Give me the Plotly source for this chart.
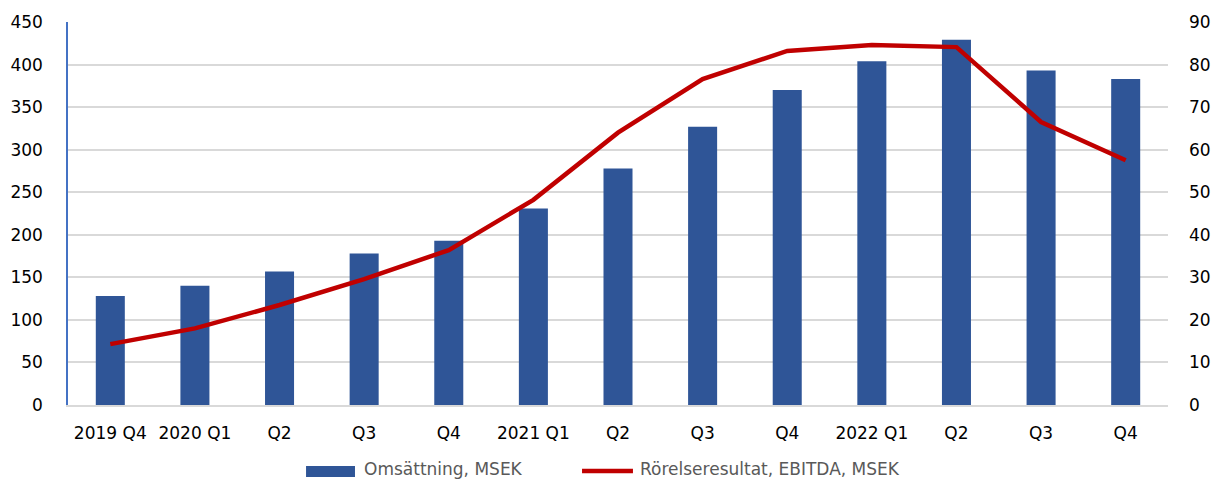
import plotly.graph_objects as go

categories = ["2019 Q4", "2020 Q1", "Q2", "Q3", "Q4", "2021 Q1", "Q2", "Q3", "Q4", "2022 Q1", "Q2", "Q3", "Q4"]
omsattning = [128, 140, 157, 178, 193, 231, 278, 327, 370, 404, 429, 393, 383]
ebitda = [14.3, 18.0, 23.5, 29.6, 36.4, 48.2, 64.0, 76.6, 83.2, 84.6, 84.1, 66.5, 57.5]
left_ticks = [0, 50, 100, 150, 200, 250, 300, 350, 400, 450]
right_ticks = [0, 10, 20, 30, 40, 50, 60, 70, 80, 90]
bar_name = "Omsättning, MSEK"
line_name = "Rörelseresultat, EBITDA, MSEK"

x = list(range(len(categories)))
font = "DejaVu Sans"
bar_color = "#2F5597"
line_color = "#C00000"

fig = go.Figure()
fig.add_trace(go.Bar(x=x, y=omsattning, name=bar_name,
                     marker=dict(color=bar_color, line=dict(width=0)), yaxis="y"))
fig.add_trace(go.Scatter(x=x, y=ebitda, name=line_name, mode="lines",
                         line=dict(color=line_color, width=4.5), yaxis="y2"))

fig.update_layout(
    width=1217, height=481,
    margin=dict(l=68, r=49, t=22, b=76, autoexpand=False),
    plot_bgcolor="white", paper_bgcolor="white",
    font=dict(family=font, size=17, color="#000000"),
    bargap=0.657,
    showlegend=False,
    xaxis=dict(tickmode="array", tickvals=x, ticktext=categories, range=[-0.5, len(categories) - 0.5],
               showgrid=False, showline=True, linecolor="#D9D9D9", linewidth=1.5, ticks="",
               automargin=False, ticklabelstandoff=12, tickfont=dict(size=17, color="#000000")),
    yaxis=dict(range=[0, 450], tickvals=left_ticks, showgrid=True, gridcolor="#D9D9D9", gridwidth=1.5,
               showline=True, linecolor="#4472C4", linewidth=1.5, zeroline=False, ticks="",
               automargin=False, ticklabelstandoff=20, tickfont=dict(size=17)),
    yaxis2=dict(range=[0, 90], tickvals=right_ticks, overlaying="y", side="right", showgrid=False,
                zeroline=False, showline=False, ticks="", automargin=False,
                ticklabelstandoff=20, tickfont=dict(size=17)),
)

# custom legend (wide bar swatch + line swatch) below the plot
leg_y = -0.167
leg_font = dict(family="DejaVu Sans", size=17, color="#595959")
fig.add_shape(type="rect", xref="paper", yref="paper", x0=0.2164, x1=0.2609, y0=-0.188, y1=-0.159,
              fillcolor=bar_color, line=dict(width=0))
fig.add_annotation(xref="paper", yref="paper", x=0.2673, y=leg_y, text=bar_name, showarrow=False,
                   xanchor="left", yanchor="middle", font=leg_font)
fig.add_shape(type="line", xref="paper", yref="paper", x0=0.4673, x1=0.5136, y0=-0.172, y1=-0.172,
              line=dict(color=line_color, width=4.5))
fig.add_annotation(xref="paper", yref="paper", x=0.5182, y=leg_y, text=line_name, showarrow=False,
                   xanchor="left", yanchor="middle", font=leg_font)

fig.write_html("out.html", config={"displayModeBar": False},
               post_script="document.body.style.margin='0';document.body.style.overflow='hidden';")
